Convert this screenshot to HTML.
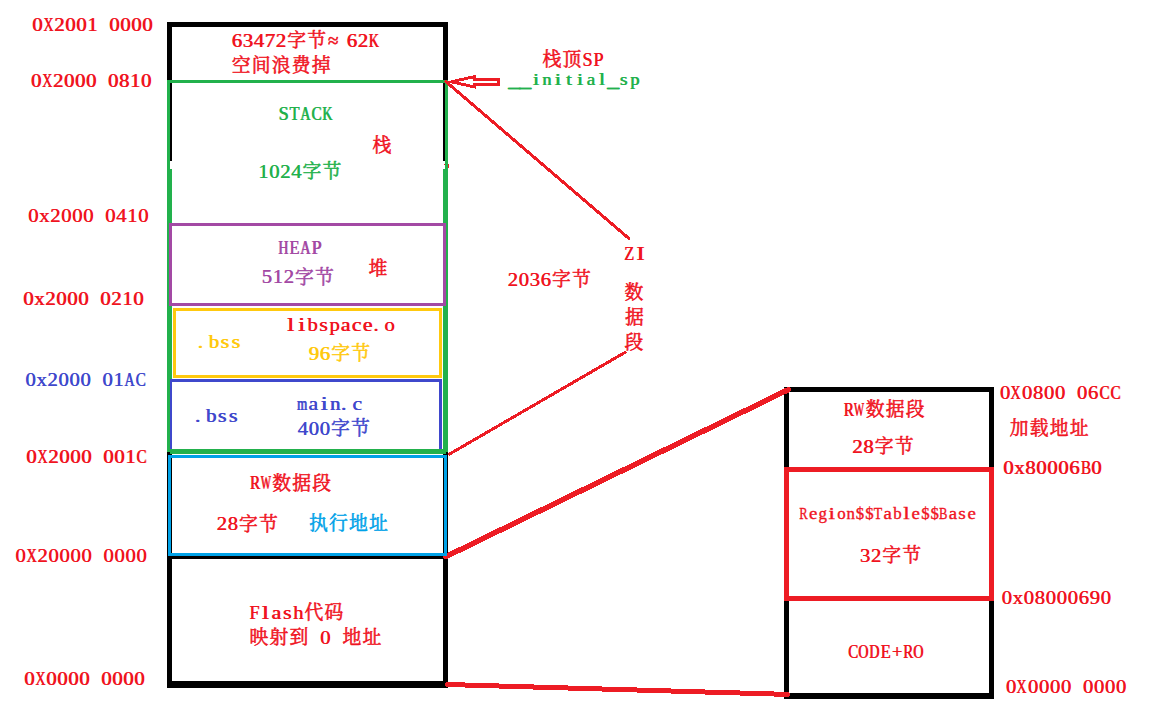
<!DOCTYPE html>
<html lang="zh">
<head>
<meta charset="utf-8">
<title>STM32 RAM / Flash memory map</title>
<style>
html,body{margin:0;padding:0;background:#fff}
body{width:1160px;height:714px;overflow:hidden}
svg{display:block}
text{font-family:"Liberation Serif","Noto Serif CJK SC",serif;font-weight:400}
</style>
</head>
<body>
<svg width="1160" height="714" viewBox="0 0 1160 714" role="img">
<rect width="1160" height="714" fill="#fff"/>
<g id="shapes">
<rect shape-rendering="crispEdges" x="167" y="22" width="281" height="5" fill="#000"/>
<rect shape-rendering="crispEdges" x="167" y="22" width="5" height="139" fill="#000"/>
<rect shape-rendering="crispEdges" x="443" y="22" width="5" height="139" fill="#000"/>
<rect shape-rendering="crispEdges" x="167" y="452" width="5" height="236" fill="#000"/>
<rect shape-rendering="crispEdges" x="443" y="452" width="5" height="236" fill="#000"/>
<rect shape-rendering="crispEdges" x="167" y="452" width="5" height="3" fill="#000"/>
<rect shape-rendering="crispEdges" x="443" y="452" width="5" height="3" fill="#000"/>
<rect shape-rendering="crispEdges" x="167" y="554" width="281" height="5" fill="#000"/>
<rect shape-rendering="crispEdges" x="167" y="681" width="281" height="7" fill="#000"/>
<rect shape-rendering="crispEdges" x="167" y="80" width="281" height="3" fill="#22b14c"/>
<rect shape-rendering="crispEdges" x="167" y="80" width="3" height="90" fill="#22b14c"/>
<rect shape-rendering="crispEdges" x="445" y="80" width="3" height="90" fill="#22b14c"/>
<rect shape-rendering="crispEdges" x="167" y="169" width="5" height="283" fill="#22b14c"/>
<rect shape-rendering="crispEdges" x="443" y="169" width="5" height="283" fill="#22b14c"/>
<rect shape-rendering="crispEdges" x="170.5" y="224.5" width="274" height="80" fill="none" stroke="#a349a4" stroke-width="3"/>
<rect shape-rendering="crispEdges" x="174.5" y="309.5" width="266" height="67" fill="none" stroke="#ffc90e" stroke-width="3"/>
<rect shape-rendering="crispEdges" x="170.5" y="380.5" width="270" height="70" fill="none" stroke="#3f48cc" stroke-width="3"/>
<rect shape-rendering="crispEdges" x="167" y="379" width="3" height="73" fill="#22b14c"/>
<rect shape-rendering="crispEdges" x="170" y="449" width="276" height="5" fill="#22b14c"/>
<rect shape-rendering="crispEdges" x="167" y="449" width="5" height="3" fill="#22b14c"/>
<rect shape-rendering="crispEdges" x="443" y="449" width="5" height="3" fill="#22b14c"/>
<rect shape-rendering="crispEdges" x="786.5" y="389.5" width="205" height="307" fill="none" stroke="#000" stroke-width="5"/>
<rect shape-rendering="crispEdges" x="784" y="693" width="210" height="6" fill="#000"/>
<g stroke="#ed1c24" fill="none" stroke-linecap="round" shape-rendering="crispEdges"><line x1="446" y1="556.6" x2="788.2" y2="389.7" stroke-width="5.4"/><line x1="447.3" y1="684.5" x2="787.7" y2="694.4" stroke-width="5"/></g>
<rect shape-rendering="crispEdges" x="169.5" y="456.5" width="276" height="98" fill="none" stroke="#00a2e8" stroke-width="3"/>
<rect shape-rendering="crispEdges" x="786.5" y="469.5" width="205" height="129" fill="none" stroke="#ed1c24" stroke-width="5"/>
<g stroke="#ed1c24" fill="none" stroke-linecap="round" shape-rendering="crispEdges"><line x1="445.9" y1="81.6" x2="628.8" y2="238.4" stroke-width="3"/><line x1="625" y1="352.4" x2="449.6" y2="454" stroke-width="3"/><path d="M451.4 81.8 L474.2 76.7 L474.2 79.45 L498.5 79.45 L498.5 84.15 L474.2 84.15 L474.2 86.9 Z" stroke-width="2.9" stroke-linejoin="miter" stroke-miterlimit="12" stroke-linecap="butt"/></g>
<rect shape-rendering="crispEdges" x="444" y="164" width="1" height="1" fill="#ed1c24"/>
<rect shape-rendering="crispEdges" x="448" y="164" width="1" height="4" fill="#ed1c24"/>
</g>
<g id="L" font-size="19.2">
<g fill="#f0141f" aria-label="0X2001 0000"><text transform="scale(1.08 1)" x="29.69" y="30.9">0</text><text transform="scale(0.728 1)" x="59.31" y="30.9">X</text><text transform="scale(1.08 1)" x="50.06 60.25 70.43 80.62 90.79 100.99 111.17 121.36 131.54" y="30.9">2001 0000</text></g>
<g fill="#f0141f" aria-label="0X2000 0810"><text transform="scale(1.08 1)" x="28.58" y="86.6">0</text><text transform="scale(0.728 1)" x="57.66" y="86.6">X</text><text transform="scale(1.08 1)" x="48.95 59.14 69.32 79.51 89.68 99.88 110.06 120.25 130.43" y="86.6">2000 0810</text></g>
<g fill="#f0141f" aria-label="0x2000 0410"><text transform="scale(1.08 1)" x="25.85 36.03 46.22 56.4 66.59 76.77 86.94 97.14 107.33 117.51 127.7" y="221.9">0x2000 0410</text></g>
<g fill="#f0141f" aria-label="0x2000 0210"><text transform="scale(1.08 1)" x="21.4 31.59 41.77 51.96 62.14 72.33 82.5 92.7 102.89 113.07 123.26" y="305">0x2000 0210</text></g>
<g fill="#3f48cc" aria-label="0x2000 01AC"><text transform="scale(1.08 1)" x="23.35 33.53 43.72 53.9 64.09 74.27 84.44 94.64 104.83" y="386">0x2000 01</text><text transform="scale(0.728 1)" x="170.71" y="386">A</text><text transform="scale(0.789 1)" x="171.62" y="386">C</text></g>
<g fill="#f0141f" aria-label="0X2000 001C"><text transform="scale(1.08 1)" x="24.18" y="462.9">0</text><text transform="scale(0.728 1)" x="51.14" y="462.9">X</text><text transform="scale(1.08 1)" x="44.55 54.74 64.92 75.11 85.28 95.48 105.66 115.85" y="462.9">2000 001</text><text transform="scale(0.789 1)" x="172.76" y="462.9">C</text></g>
<g fill="#f0141f" aria-label="0X20000 0000"><text transform="scale(1.08 1)" x="14.09" y="562.1">0</text><text transform="scale(0.728 1)" x="36.17" y="562.1">X</text><text transform="scale(1.08 1)" x="34.46 44.64 54.83 65.01 75.2 85.37 95.57 105.76 115.94 126.13" y="562.1">20000 0000</text></g>
<g fill="#f0141f" aria-label="0X0000 0000"><text transform="scale(1.08 1)" x="22.28" y="684.8">0</text><text transform="scale(0.728 1)" x="48.32" y="684.8">X</text><text transform="scale(1.08 1)" x="42.65 52.84 63.02 73.21 83.38 93.58 103.76 113.95 124.14" y="684.8">0000 0000</text></g>
<g fill="#f0141f" aria-label="63472字节≈62K"><text transform="scale(1.08 1)" x="214.46 224.64 234.83 245.01 255.2 320.94 331.13" y="46.6">6347262</text><text transform="scale(0.728 1)" x="506.23" y="46.6">K</text></g>
<g fill="#22b14c" aria-label="STACK"><text transform="scale(0.946 1)" x="294.18" y="119.9">S</text><text transform="scale(0.861 1)" x="335.88" y="119.9">T</text><text transform="scale(0.728 1)" x="412.19" y="119.9">A</text><text transform="scale(0.789 1)" x="394.65" y="119.9">C</text><text transform="scale(0.728 1)" x="442.4" y="119.9">K</text></g>
<g fill="#22b14c" aria-label="1024字节"><text transform="scale(1.08 1)" x="238.9 249.09 259.27 269.46" y="177.7">1024</text></g>
<g fill="#a349a4" aria-label="HEAP"><text transform="scale(0.728 1)" x="381.99" y="253.9">H</text><text transform="scale(0.861 1)" x="335.88" y="253.9">E</text><text transform="scale(0.728 1)" x="412.19" y="253.9">A</text><text transform="scale(0.946 1)" x="329.07" y="253.9">P</text></g>
<g fill="#a349a4" aria-label="512字节"><text transform="scale(1.08 1)" x="242.1 252.28 262.47" y="283.4">512</text></g>
<g fill="#f0141f" aria-label="libspace.o"><text transform="scale(1.404 1)" x="204.17 212.01" y="330.7">li</text><text transform="scale(1.08 1)" x="284.46" y="330.7">b</text><text transform="scale(1.166 1)" x="273.53" y="330.7">s</text><text transform="scale(1.08 1)" x="304.83" y="330.7">p</text><text transform="scale(1.134 1)" x="300.32 310.02 319.72" y="330.7">ace</text><text transform="scale(1.08 1)" x="345.56 355.76" y="330.7">.o</text></g>
<g fill="#ffc90e" aria-label=".bss"><text transform="scale(1.08 1)" x="182.97 193.16" y="347.7">.b</text><text transform="scale(1.166 1)" x="188.99 198.42" y="347.7">ss</text></g>
<g fill="#ffc90e" aria-label="96字节"><text transform="scale(1.08 1)" x="285.76 295.94" y="360.1">96</text></g>
<g fill="#3f48cc" aria-label=".bss"><text transform="scale(1.08 1)" x="180.38 190.57" y="421.8">.b</text><text transform="scale(1.166 1)" x="186.59 196.02" y="421.8">ss</text></g>
<g fill="#3f48cc" aria-label="main.c"><text transform="scale(0.676 1)" x="439.09" y="409.8">m</text><text transform="scale(1.134 1)" x="271.75" y="409.8">a</text><text transform="scale(1.404 1)" x="228.1" y="409.8">i</text><text transform="scale(1.08 1)" x="305.39 315.56" y="409.8">n.</text><text transform="scale(1.134 1)" x="310.55" y="409.8">c</text></g>
<g fill="#3f48cc" aria-label="400字节"><text transform="scale(1.08 1)" x="275.39 285.57 295.76" y="435.1">400</text></g>
<g fill="#f0141f" aria-label="RW数据段"><text transform="scale(0.789 1)" x="316.67" y="489.5">R</text><text transform="scale(0.557 1)" x="467.85" y="489.5">W</text></g>
<g fill="#f0141f" aria-label="28字节"><text transform="scale(1.08 1)" x="200.48 210.66" y="530.5">28</text></g>
<g fill="#f0141f" aria-label="Flash代码"><text transform="scale(0.946 1)" x="263.41" y="618.6">F</text><text transform="scale(1.404 1)" x="186.22" y="618.6">l</text><text transform="scale(1.134 1)" x="239.3" y="618.6">a</text><text transform="scale(1.166 1)" x="242.49" y="618.6">s</text><text transform="scale(1.08 1)" x="271.31" y="618.6">h</text></g>
<g fill="#f0141f" aria-label="映射到 0 地址"><text transform="scale(1.08 1)" x="296.31" y="643.6">0</text></g>
<g fill="#f0141f" aria-label="栈顶SP"><text transform="scale(0.946 1)" x="615.47 627.1" y="65.8">SP</text></g>
<g fill="#22b14c" aria-label="__initial_sp"><text transform="scale(1.294 1)" x="392.93 401.43" y="87.5" font-size="17" stroke="#22b14c" stroke-width="0.8">__</text><text transform="scale(1.404 1)" x="379.19" y="85.5" font-size="17">i</text><text transform="scale(1.08 1)" x="501.95" y="85.5" font-size="17">n</text><text transform="scale(1.404 1)" x="394.86" y="85.5" font-size="17">i</text><text transform="scale(1.296 1)" x="436.45" y="85.5" font-size="17">t</text><text transform="scale(1.404 1)" x="410.53" y="85.5" font-size="17">i</text><text transform="scale(1.134 1)" x="517.13" y="85.5" font-size="17">a</text><text transform="scale(1.404 1)" x="426.2" y="85.5" font-size="17">l</text><text transform="scale(1.294 1)" x="469.43" y="87.5" font-size="17" stroke="#22b14c" stroke-width="0.8">_</text><text transform="scale(1.166 1)" x="531.41" y="85.5" font-size="17">s</text><text transform="scale(1.08 1)" x="583.44" y="85.5" font-size="17">p</text></g>
<g fill="#f0141f" aria-label="ZI"><text transform="scale(0.861 1)" x="724.76" y="260">Z</text><text transform="scale(1.35 1)" x="471.03" y="260">I</text></g>
<g fill="#f0141f" aria-label="2036字节"><text transform="scale(1.08 1)" x="469.83 480.01 490.2 500.39" y="285.6">2036</text></g>
<g fill="#f0141f" aria-label="RW数据段"><text transform="scale(0.789 1)" x="1069.13" y="415.6">R</text><text transform="scale(0.557 1)" x="1532.64" y="415.6">W</text></g>
<g fill="#f0141f" aria-label="28字节"><text transform="scale(1.08 1)" x="789 799.18" y="452.7">28</text></g>
<g fill="#f0141f" aria-label="32字节"><text transform="scale(1.08 1)" x="796.03 806.22" y="561.6">32</text></g>
<g fill="#f0141f" aria-label="CODE+RO"><text transform="scale(0.789 1)" x="1074.71" y="657.6">C</text><text transform="scale(0.728 1)" x="1178.72 1193.82" y="657.6">OD</text><text transform="scale(0.861 1)" x="1022.55" y="657.6">E</text><text transform="scale(0.933 1)" x="955.88" y="657.6">+</text><text transform="scale(0.789 1)" x="1144.45" y="657.6">R</text><text transform="scale(0.728 1)" x="1254.22" y="657.6">O</text></g>
<g fill="#f0141f" aria-label="0X0800 06CC"><text transform="scale(1.08 1)" x="925.66" y="398.9">0</text><text transform="scale(0.728 1)" x="1387.73" y="398.9">X</text><text transform="scale(1.08 1)" x="946.03 956.22 966.4 976.59 986.76 996.96 1007.14" y="398.9">0800 06</text><text transform="scale(0.789 1)" x="1393.28 1407.23" y="398.9">CC</text></g>
<g fill="#f0141f" aria-label="0x80006B0"><text transform="scale(1.08 1)" x="928.76 938.95 949.14 959.32 969.51 979.69 989.88" y="473.6">0x80006</text><text transform="scale(0.789 1)" x="1369.63" y="473.6">B</text><text transform="scale(1.08 1)" x="1010.25" y="473.6">0</text></g>
<g fill="#f0141f" aria-label="0x08000690"><text transform="scale(1.08 1)" x="927.24 937.42 947.61 957.79 967.98 978.16 988.35 998.53 1008.72 1018.9" y="604.2">0x08000690</text></g>
<g fill="#f0141f" aria-label="0X0000 0000"><text transform="scale(1.08 1)" x="931.17" y="693.2">0</text><text transform="scale(0.728 1)" x="1395.9" y="693.2">X</text><text transform="scale(1.08 1)" x="951.54 961.73 971.91 982.1 992.27 1002.47 1012.65 1022.84 1033.02" y="693.2">0000 0000</text></g>
</g>
<use href="#L" x="0.6"/>
<g fill="#f0141f" stroke="#f0141f" stroke-width="0.35" font-size="16.6" aria-label="Region$$Table$$Base"><text transform="scale(0.761 1)" x="1050.14" y="519.3" font-size="16.6">R</text><text transform="scale(1.134 1)" x="713.33" y="519.3" font-size="16.6">e</text><text transform="scale(1.016 1)" x="805.59" y="519.3" font-size="16.6">g</text><text transform="scale(1.404 1)" x="590.11" y="519.3" font-size="16.6">i</text><text transform="scale(1.016 1)" x="823.96 833.15 842.34 851.52" y="519.3" font-size="16.6">on$$</text><text transform="scale(0.831 1)" x="1051.51" y="519.3" font-size="16.6">T</text><text transform="scale(1.134 1)" x="779.15" y="519.3" font-size="16.6">a</text><text transform="scale(1.016 1)" x="879.08" y="519.3" font-size="16.6">b</text><text transform="scale(1.404 1)" x="643.27" y="519.3" font-size="16.6">l</text><text transform="scale(1.134 1)" x="803.83" y="519.3" font-size="16.6">e</text><text transform="scale(1.016 1)" x="906.64 915.83" y="519.3" font-size="16.6">$$</text><text transform="scale(0.761 1)" x="1233.95" y="519.3" font-size="16.6">B</text><text transform="scale(1.134 1)" x="836.74" y="519.3" font-size="16.6">a</text><text transform="scale(1.166 1)" x="821.85" y="519.3" font-size="16.6">s</text><text transform="scale(1.134 1)" x="853.2" y="519.3" font-size="16.6">e</text></g>
<g id="C" stroke-width="0.55" stroke-linejoin="round" font-size="18.8">
<g fill="#f0141f" stroke="#f0141f" aria-label="字节≈"><text x="287.2 307.2" y="46.9">字节</text><text x="328" y="46.9" font-size="19.2">≈</text></g>
<g fill="#f0141f" stroke="#f0141f" aria-label="空间浪费掉"><text x="231.85 251.85 271.85 291.85 311.85" y="71.5">空间浪费掉</text></g>
<g fill="#f0141f" stroke="#f0141f" aria-label="栈"><text x="372.4" y="151.9">栈</text></g>
<g fill="#22b14c" stroke="#22b14c" aria-label="字节"><text x="302.6 322.6" y="178">字节</text></g>
<g fill="#a349a4" stroke="#a349a4" aria-label="字节"><text x="295.05 315.05" y="283.7">字节</text></g>
<g fill="#f0141f" stroke="#f0141f" aria-label="堆"><text x="368.6" y="275.1">堆</text></g>
<g fill="#ffc90e" stroke="#ffc90e" aria-label="字节"><text x="331.2 351.2" y="360.4">字节</text></g>
<g fill="#3f48cc" stroke="#3f48cc" aria-label="字节"><text x="331 351" y="435.4">字节</text></g>
<g fill="#f0141f" stroke="#f0141f" aria-label="数据段"><text x="272.2 292.2 312.2" y="489.8">数据段</text></g>
<g fill="#f0141f" stroke="#f0141f" aria-label="字节"><text x="239.1 259.1" y="530.8">字节</text></g>
<g fill="#00a2e8" stroke="#00a2e8" aria-label="执行地址"><text x="309 329 349 369" y="530">执行地址</text></g>
<g fill="#f0141f" stroke="#f0141f" aria-label="代码"><text x="304.6 324.6" y="618.9">代码</text></g>
<g fill="#f0141f" stroke="#f0141f" aria-label="映射到地址"><text x="249.6 269.6 289.6 342.6 362.6" y="643.9">映射到地址</text></g>
<g fill="#f0141f" stroke="#f0141f" aria-label="栈顶"><text x="542.6 562.6" y="66.1">栈顶</text></g>
<g fill="#f0141f" stroke="#f0141f" aria-label="数"><text x="624.4" y="298.6">数</text></g>
<g fill="#f0141f" stroke="#f0141f" aria-label="据"><text x="624.9" y="324.3">据</text></g>
<g fill="#f0141f" stroke="#f0141f" aria-label="段"><text x="624.4" y="349.3">段</text></g>
<g fill="#f0141f" stroke="#f0141f" aria-label="字节"><text x="552 572" y="285.9">字节</text></g>
<g fill="#f0141f" stroke="#f0141f" aria-label="数据段"><text x="865.65 885.65 905.65" y="415.9">数据段</text></g>
<g fill="#f0141f" stroke="#f0141f" aria-label="字节"><text x="874.7 894.7" y="453">字节</text></g>
<g fill="#f0141f" stroke="#f0141f" aria-label="字节"><text x="882.3 902.3" y="561.9">字节</text></g>
<g fill="#f0141f" stroke="#f0141f" aria-label="加载地址"><text x="1009.7 1029.7 1049.7 1069.7" y="434.8">加载地址</text></g>
</g>
</svg>
</body>
</html>
